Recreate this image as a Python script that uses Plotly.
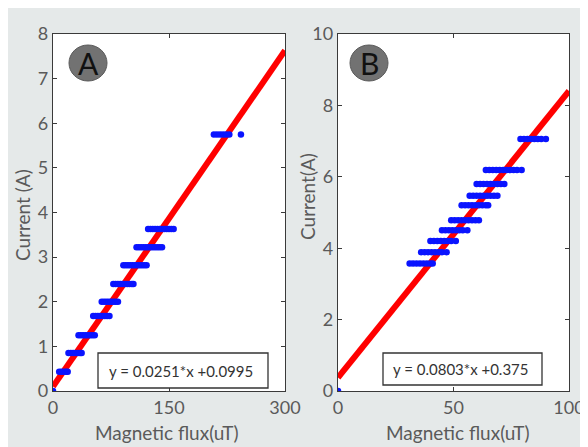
import plotly.graph_objects as go

# page body has an 8px default margin; figure occupies the rest of the window
OFF = 8
W, H = 588 - OFF, 447 - OFF

# ---------------- Data ----------------
# Panel A: current levels (A) and magnetic flux readings (uT) at each level
a_levels = [0.0, 0.43, 0.85, 1.25, 1.68, 2.0, 2.4, 2.82, 3.22, 3.63, 5.75]
a_flux = [
    [0],
    [8, 11, 14, 17, 19],
    [20, 23, 26, 29, 32, 35, 37],
    [33, 36, 39, 42, 45, 48, 51, 54],
    [52, 55, 58, 61, 64, 67, 70, 73],
    [63, 66, 69, 72, 75, 78, 81, 84],
    [78, 81, 84, 87, 90, 93, 96, 99, 102, 104],
    [91, 94, 97, 100, 103, 106, 109, 112, 115, 118, 121],
    [108, 111, 114, 117, 120, 123, 126, 129, 132, 135, 138, 141],
    [123, 126, 129, 132, 135, 138, 141, 144, 147, 150, 153, 156],
    [208, 212, 216, 220, 224, 228, 243],
]
a_fit = {"slope": 0.0251, "intercept": 0.0995}
a_xrange = [0, 300]
a_yrange = [0, 8]
a_xticks = [0, 150, 300]
a_yticks = [0, 1, 2, 3, 4, 5, 6, 7, 8]

# Panel B
b_levels = [0.0, 3.57, 3.89, 4.2, 4.5, 4.78, 5.2, 5.47, 5.8, 6.19, 7.06]
b_flux = [
    [0],
    [31, 32.5, 34, 35.5, 37, 38.5, 40, 41],
    [36, 37.5, 39, 40.5, 42, 43.5, 45, 47],
    [40, 41.5, 43, 44.5, 46, 47.5, 49, 51],
    [45, 46.5, 48, 49.5, 51, 52.5, 54, 56],
    [49, 50.5, 52, 53.5, 55, 56.5, 58, 59.5, 61],
    [53.5, 55, 56.5, 58, 59.5, 61, 62.5, 64, 65],
    [57, 58.5, 60, 61.5, 63, 64.5, 66, 67.5, 69],
    [60, 61.5, 63, 64.5, 66, 67.5, 69, 70.5, 72],
    [64, 65.5, 67, 68.5, 70, 71.5, 73, 74.5, 76, 77.5, 79.5],
    [79, 80.5, 82, 83.5, 85, 86.5, 88, 90],
]
b_fit = {"slope": 0.0803, "intercept": 0.375}
b_xrange = [0, 100]
b_yrange = [0, 10]
b_xticks = [0, 50, 100]
b_yticks = [0, 2, 4, 6, 8, 10]

eq_a = "y = 0.0251*x +0.0995"
eq_b = "y = 0.0803*x +0.375"

# ---------------- Helpers (window pixels -> paper fractions) ----------------
def px(x):
    return (x - OFF) / W

def py(y):
    return 1 - (y - OFF) / H

def flatten(levels, flux):
    xs, ys = [], []
    for lv, xl in zip(levels, flux):
        for v in xl:
            xs.append(v)
            ys.append(lv)
    return xs, ys

fig = go.Figure()

for (levels, flux, fit, xr, xa, ya) in [
    (a_levels, a_flux, a_fit, a_xrange, "x", "y"),
    (b_levels, b_flux, b_fit, b_xrange, "x2", "y2"),
]:
    lx = [xr[0], xr[1]]
    ly = [fit["slope"] * v + fit["intercept"] for v in lx]
    fig.add_trace(go.Scatter(x=lx, y=ly, mode="lines",
                             line=dict(color="#ff0000", width=6),
                             xaxis=xa, yaxis=ya, showlegend=False,
                             hoverinfo="skip"))
    xs, ys = flatten(levels, flux)
    fig.add_trace(go.Scatter(x=xs, y=ys, mode="markers",
                             marker=dict(color="#0a14ff", size=6.5,
                                         symbol="circle", line=dict(width=0)),
                             xaxis=xa, yaxis=ya, showlegend=False))

font_fam = "Lato, 'Open Sans', sans-serif"
tick_font = dict(family=font_fam, size=18, color="#5a5a5a")

axis_common = dict(showline=True, linecolor="#3a3a3a", linewidth=1.3,
                   mirror="ticks", ticks="inside", ticklen=4,
                   tickcolor="#3a3a3a", showgrid=False, zeroline=False,
                   automargin=False, tickfont=tick_font)

fig.update_layout(
    template="none",
    width=W, height=H,
    margin=dict(l=0, r=0, t=0, b=0, pad=0),
    paper_bgcolor="#e5e9e9",
    plot_bgcolor="white",
    xaxis=dict(domain=[px(53), px(285)], range=a_xrange, tickvals=a_xticks,
               anchor="y", **axis_common),
    yaxis=dict(domain=[py(391), py(34)], range=a_yrange, tickvals=a_yticks,
               anchor="x", **axis_common),
    xaxis2=dict(domain=[px(338), px(569)], range=b_xrange, tickvals=b_xticks,
                anchor="y2", **axis_common),
    yaxis2=dict(domain=[py(391), py(34)], range=b_yrange, tickvals=b_yticks,
                anchor="x2", **axis_common),
)

shapes = [
    # equation boxes
    dict(type="rect", xref="paper", yref="paper", x0=px(98), x1=px(268),
         y0=py(388), y1=py(353), fillcolor="white",
         line=dict(color="#333333", width=1.3)),
    dict(type="rect", xref="paper", yref="paper", x0=px(383), x1=px(542),
         y0=py(385), y1=py(353), fillcolor="white",
         line=dict(color="#333333", width=1.3)),
    # label circles
    dict(type="circle", xref="paper", yref="paper", x0=px(69), x1=px(107),
         y0=py(81), y1=py(45), fillcolor="#727272",
         line=dict(color="#5a5a5a", width=1)),
    dict(type="circle", xref="paper", yref="paper", x0=px(350), x1=px(388),
         y0=py(81), y1=py(45), fillcolor="#727272",
         line=dict(color="#5a5a5a", width=1)),
]
fig.update_layout(shapes=shapes)

def note(text, x, y, font, angle=0):
    return dict(text=text, x=px(x), y=py(y), xref="paper", yref="paper",
                xanchor="center", yanchor="middle", showarrow=False,
                textangle=angle, font=font)

eq_font = dict(family=font_fam, size=15, color="#333333")
lab_font = dict(family=font_fam, size=30, color="#111111")
title_font = dict(family=font_fam, size=19, color="#5a5a5a")
ann = [
    note(eq_a, 181, 370.5, eq_font),
    note(eq_b, 461, 369, eq_font),
    note("A", 88, 63, lab_font),
    note("B", 369, 63, lab_font),
    note("Magnetic flux(uT)", 167, 432, title_font),
    note("Magnetic flux(uT)", 458, 432, title_font),
    note("Current (A)", 22, 215, title_font, -90),
    note("Current(A)", 307, 197, title_font, -90),
]
fig.update_layout(annotations=ann)

fig.write_html("out.html")
